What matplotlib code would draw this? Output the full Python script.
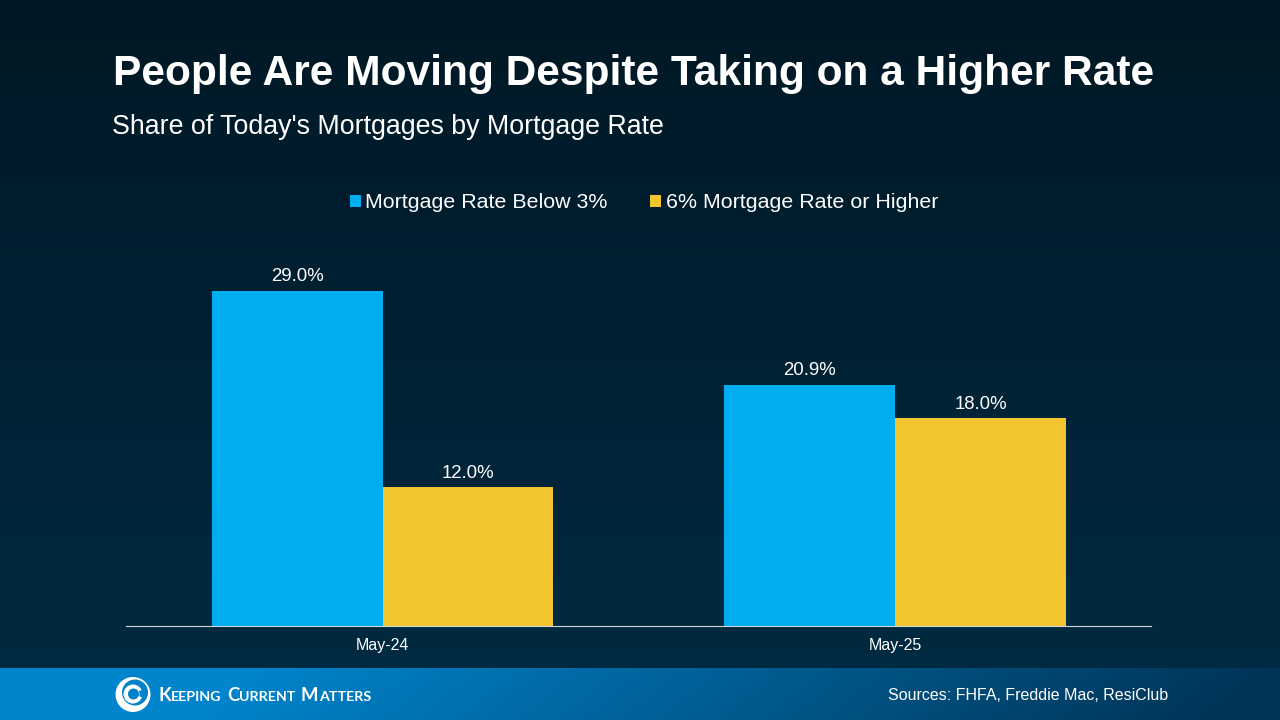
import numpy as np
import matplotlib
matplotlib.use("Agg")
import matplotlib.pyplot as plt
from matplotlib.patches import Circle, Wedge

plt.rcParams['font.family'] = ['Liberation Sans', 'DejaVu Sans']

categories = ["May-24", "May-25"]
series_names = ["Mortgage Rate Below 3%", "6% Mortgage Rate or Higher"]
below_3 = [29.0, 20.9]
above_6 = [12.0, 18.0]
BLUE = "#00AEEF"
GOLD = "#F2C430"
W, H = 1280, 720

fig = plt.figure(figsize=(W/100, H/100), dpi=100)

def px_axes(x0, y0, x1, y1, **kw):
    return fig.add_axes([x0/W, 1-y1/H, (x1-x0)/W, (y1-y0)/H], **kw)

# background gradient
bg = px_axes(0, 0, W, H)
bg.axis("off")
top = np.array([0x00, 0x18, 0x25]) / 255
bot = np.array([0x00, 0x2C, 0x44]) / 255
t = np.linspace(0, 1, 720)[:, None, None]
bg.imshow(top*(1-t) + bot*t, aspect="auto", extent=[0, W, H, 0], zorder=0)

# footer gradient
ft = px_axes(0, 668, W, H)
ft.axis("off")
c1 = np.array([0x00, 0x84, 0xCC]) / 255
c2 = np.array([0x00, 0x34, 0x56]) / 255
xx, yy = np.meshgrid(np.linspace(0, 1, 640), np.linspace(0, 1, 52))
g = np.clip((xx*1.0 + yy*0.05 - 0.2) / 0.8, 0, 1)[:, :, None]
ft.imshow(c1*(1-g) + c2*g, aspect="auto", extent=[0, W, 52, 0])

# chart
ax = px_axes(126.4, 240, 1151.4, 626)
ax.patch.set_alpha(0)
x = np.arange(len(categories))
bw = 1/3
b1 = ax.bar(x - bw/2, below_3, bw, color=BLUE, label=series_names[0])
b2 = ax.bar(x + bw/2, above_6, bw, color=GOLD, label=series_names[1])
ax.set_xlim(-0.5, 1.5)
ax.set_ylim(0, 386/(335/29))
ax.set_yticks([])
ax.set_xticks(x, categories, color="white", fontsize=11.5)
ax.tick_params(axis="x", length=0, pad=8.5)
for s in ["top", "left", "right"]:
    ax.spines[s].set_visible(False)
ax.spines["bottom"].set_color("#D0D5D8")
ax.spines["bottom"].set_linewidth(0.8)
for bars in (b1, b2):
    ax.bar_label(bars, fmt="%.1f%%", color="white", fontsize=13.4, padding=4.0)

fig.legend(handles=[b1, b2], labels=series_names, loc="center",
           bbox_to_anchor=(644/W, 1-203/H), ncol=2, frameon=False,
           fontsize=15.4, labelcolor="white", handlelength=0.52, handleheight=0.52,
           handletextpad=0.2, columnspacing=1.98)

fig.text(113/W, 1-73.5/H, "People Are Moving Despite Taking on a Higher Rate",
         color="white", fontsize=30.65, fontweight="bold", va="center", ha="left")
fig.text(112/W, 1-127.5/H, "Share of Today's Mortgages by Mortgage Rate",
         color="white", fontsize=19.24, va="center", ha="left")
fig.text(1168/W, 1-695/H, "Sources: FHFA, Freddie Mac, ResiClub",
         color="white", fontsize=11.5, va="center", ha="right")

# logo: swirl mark
lg = px_axes(0, 0, W, H)
lg.axis("off")
lg.patch.set_alpha(0)
lg.set_xlim(0, W)
lg.set_ylim(H, 0)
cx, cy = 133, 694.5
FOOT = "#0082C8"
lg.add_patch(Circle((cx, cy), 17.5, color="white", lw=0))
lg.add_patch(Circle((cx+2, cy-2), 13, color=FOOT, lw=0))
lg.add_patch(Circle((cx, cy-0.5), 9.5, color="white", lw=0))
lg.add_patch(Circle((cx+0.5, cy-0.5), 5.5, color=FOOT, lw=0))
lg.add_patch(Wedge((cx, cy-0.5), 10, 335, 20, width=3.5, color=FOOT, lw=0))

# logo: small-caps wordmark
renderer = fig.canvas.get_renderer()
pos = 158.0
base = 701.0
parts = [("K", 13.3), ("EEPING", 10.3), (" ", 0), ("C", 13.3), ("URRENT", 10.3), (" ", 0), ("M", 13.3), ("ATTERS", 10.3)]
for s, fs in parts:
    if s == " ":
        pos += 4.5
        continue
    tx = lg.text(pos, base, s, color="white", fontsize=fs, fontweight="bold",
                 family=["Lato", "Liberation Sans"], va="baseline", ha="left")
    pos += tx.get_window_extent(renderer).width + 0.5

fig.savefig("out.png", dpi=100)
